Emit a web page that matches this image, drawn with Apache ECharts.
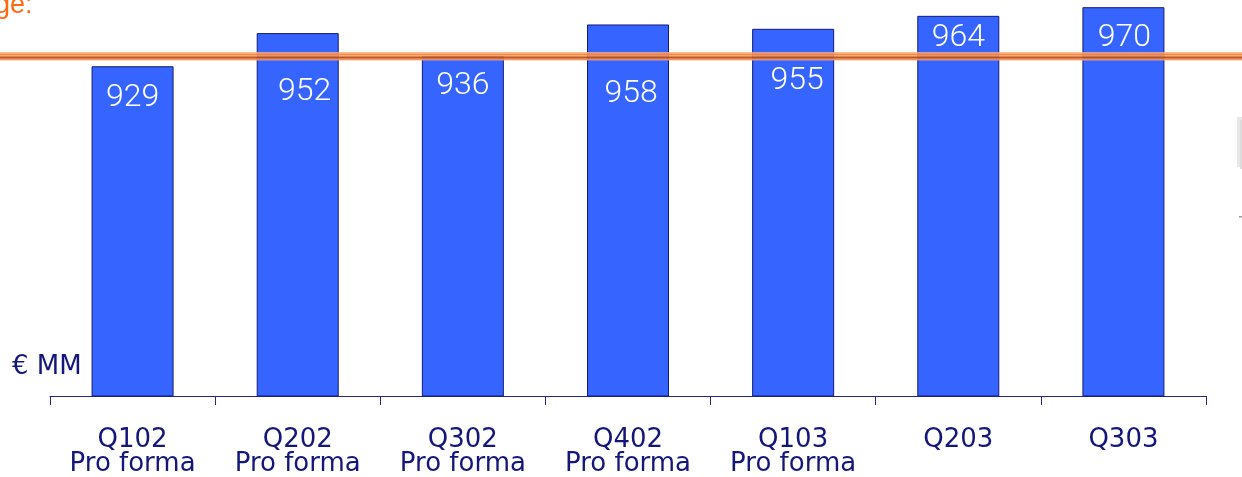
<!DOCTYPE html>
<html>
<head>
<meta charset="utf-8">
<script src="https://cdn.jsdelivr.net/npm/echarts@6/dist/echarts.min.js"></script>
<style>
  html, body { margin: 0; padding: 0; background: #ffffff; }
  #chart { width: 1242px; height: 477px; }
</style>
</head>
<body>
<div id="chart"></div>
<script>
// Quarterly figures, € MM
const quarters = ['Q102\nPro forma', 'Q202\nPro forma', 'Q302\nPro forma', 'Q402\nPro forma', 'Q103\nPro forma', 'Q203', 'Q303'];
const values = [929, 952, 936, 958, 955, 964, 970];

// Label placement inside each bar (px below bar top, px right of bar centre)
const labelDrop = [31, 58, 29, 69, 51, 21, 30];
const labelShift = [0, 7, 0, 3, 4, 0, 1];

const navy = '#14167a';

const chart = echarts.init(document.getElementById('chart'), null, { renderer: 'canvas' });

chart.setOption({
  backgroundColor: '#ffffff',
  animation: false,
  grid: { left: 50, right: 36, top: 0, bottom: 80 },
  xAxis: {
    type: 'category',
    data: quarters,
    axisLine: { lineStyle: { color: '#24268a', width: 1 } },
    axisTick: { show: true, length: 9, lineStyle: { color: '#24268a', width: 1 } },
    axisLabel: {
      color: navy,
      fontFamily: 'DejaVu Sans',
      fontSize: 26,
      lineHeight: 24,
      margin: 32,
      interval: 0
    }
  },
  yAxis: {
    type: 'value',
    min: 700,
    max: 975,
    show: false,
    splitLine: { show: false }
  },
  series: [{
    type: 'bar',
    barWidth: 82,
    data: values.map((v, i) => ({
      value: v,
      label: {
        position: ['50%', labelDrop[i]],
        offset: [labelShift[i], 1]
      }
    })),
    itemStyle: { color: '#3565fe', borderColor: '#141a7c', borderWidth: 1 },
    label: {
      show: true,
      color: '#ffffff',
      fontFamily: 'Roboto',
      fontWeight: 300,
      fontSize: 32,
      align: 'center',
      verticalAlign: 'middle'
    }
  }],
  graphic: [
    // heading fragment
    { type: 'text', left: -5, top: -8, style: { text: 'ge:', fill: '#ff6a10', font: '27px "Liberation Sans"' }, z: 10 },
    // double rule across the top
    { type: 'rect', shape: { x: 0, y: 52, width: 1242, height: 8.5 }, style: { fill: '#ffaa70', opacity: 0.8 }, z: 20 },
    { type: 'line', shape: { x1: 0, y1: 54.5, x2: 1242, y2: 54.5 }, style: { stroke: '#ff7f35', lineWidth: 1.5, opacity: 0.9 }, z: 21 },
    { type: 'line', shape: { x1: 0, y1: 57.5, x2: 1242, y2: 57.5 }, style: { stroke: '#b04a18', lineWidth: 2, opacity: 0.9 }, z: 21 },
    { type: 'line', shape: { x1: 0, y1: 59.5, x2: 1242, y2: 59.5 }, style: { stroke: '#f08a55', lineWidth: 1, opacity: 0.8 }, z: 21 },
    // unit caption
    { type: 'text', left: 12, top: 354, style: { text: '€ MM', fill: navy, font: '26px "DejaVu Sans"' }, z: 10 },
    // edge fragments at the right border
    { type: 'rect', shape: { x: 1237, y: 117, width: 5, height: 50 }, style: { fill: '#e8e8e8' }, z: 5 },
    { type: 'rect', shape: { x: 1240, y: 120, width: 2, height: 49 }, style: { fill: '#dcdcdc' }, z: 5 },
    { type: 'rect', shape: { x: 1239, y: 216, width: 3, height: 1.5 }, style: { fill: '#9a9a9a' }, z: 5 }
  ]
});
</script>
</body>
</html>
